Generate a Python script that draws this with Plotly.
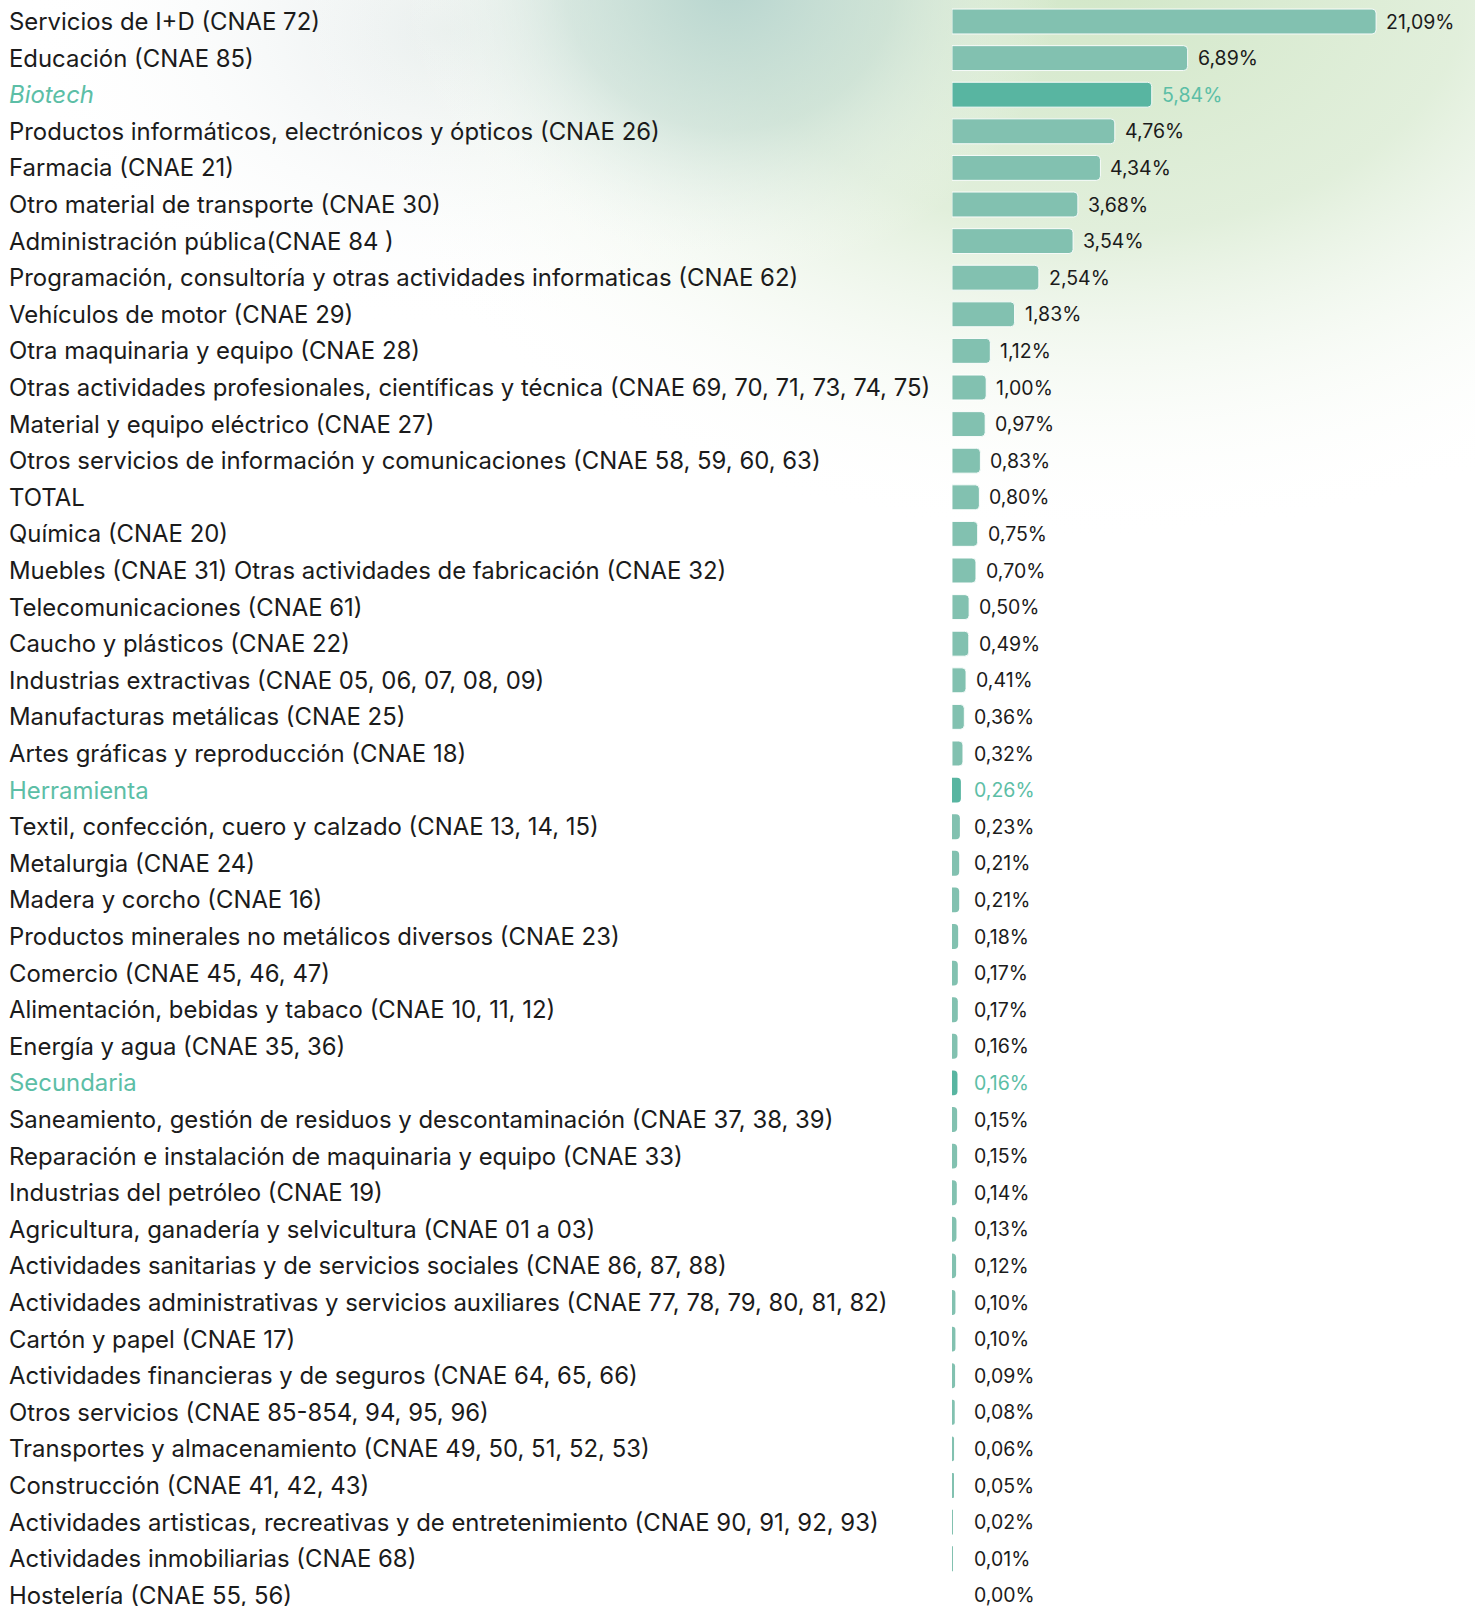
import base64
import plotly.graph_objects as go

categories = [
    "Servicios de I+D (CNAE 72)",
    "Educación (CNAE 85)",
    "Biotech",
    "Productos informáticos, electrónicos y ópticos (CNAE 26)",
    "Farmacia (CNAE 21)",
    "Otro material de transporte (CNAE 30)",
    "Administración pública(CNAE 84 )",
    "Programación, consultoría y otras actividades informaticas (CNAE 62)",
    "Vehículos de motor (CNAE 29)",
    "Otra maquinaria y equipo (CNAE 28)",
    "Otras actividades profesionales, científicas y técnica (CNAE 69, 70, 71, 73, 74, 75)",
    "Material y equipo eléctrico (CNAE 27)",
    "Otros servicios de información y comunicaciones (CNAE 58, 59, 60, 63)",
    "TOTAL",
    "Química (CNAE 20)",
    "Muebles (CNAE 31) Otras actividades de fabricación (CNAE 32)",
    "Telecomunicaciones (CNAE 61)",
    "Caucho y plásticos (CNAE 22)",
    "Industrias extractivas (CNAE 05, 06, 07, 08, 09)",
    "Manufacturas metálicas (CNAE 25)",
    "Artes gráficas y reproducción (CNAE 18)",
    "Herramienta",
    "Textil, confección, cuero y calzado (CNAE 13, 14, 15)",
    "Metalurgia (CNAE 24)",
    "Madera y corcho (CNAE 16)",
    "Productos minerales no metálicos diversos (CNAE 23)",
    "Comercio (CNAE 45, 46, 47)",
    "Alimentación, bebidas y tabaco (CNAE 10, 11, 12)",
    "Energía y agua (CNAE 35, 36)",
    "Secundaria",
    "Saneamiento, gestión de residuos y descontaminación (CNAE 37, 38, 39)",
    "Reparación e instalación de maquinaria y equipo (CNAE 33)",
    "Industrias del petróleo (CNAE 19)",
    "Agricultura, ganadería y selvicultura (CNAE 01 a 03)",
    "Actividades sanitarias y de servicios sociales (CNAE 86, 87, 88)",
    "Actividades administrativas y servicios auxiliares (CNAE 77, 78, 79, 80, 81, 82)",
    "Cartón y papel (CNAE 17)",
    "Actividades financieras y de seguros (CNAE 64, 65, 66)",
    "Otros servicios (CNAE 85-854, 94, 95, 96)",
    "Transportes y almacenamiento (CNAE 49, 50, 51, 52, 53)",
    "Construcción (CNAE 41, 42, 43)",
    "Actividades artisticas, recreativas y de entretenimiento (CNAE 90, 91, 92, 93)",
    "Actividades inmobiliarias (CNAE 68)",
    "Hostelería (CNAE 55, 56)",
]

values = [21.09, 6.89, 5.84, 4.76, 4.34, 3.68, 3.54, 2.54, 1.83, 1.12, 1.00, 0.97,
          0.83, 0.80, 0.75, 0.70, 0.50, 0.49, 0.41, 0.36, 0.32, 0.26, 0.23, 0.21,
          0.21, 0.18, 0.17, 0.17, 0.16, 0.16, 0.15, 0.15, 0.14, 0.13, 0.12, 0.10,
          0.10, 0.09, 0.08, 0.06, 0.05, 0.02, 0.01, 0.00]

highlighted = ["Biotech", "Herramienta", "Secundaria"]
italic_labels = ["Biotech"]

AXIS_BREAK = 12.4       # the longest bar is drawn shortened (broken axis)
LABEL_MIN = 0.35        # minimum position of the value labels

W, H = 1475, 1606
BAR_COLOR = "#82c1b0"
HI_COLOR = "#58b5a1"
HI_TEXT = "#5cbea6"
TEXT = "#1b1b1b"
FONT = "Inter, 'Open Sans', sans-serif"

display = [min(v, AXIS_BREAK) for v in values]
colors = [HI_COLOR if c in highlighted else BAR_COLOR for c in categories]
outline = [1 if v >= 0.3 else 0 for v in values]

svg = f"""<svg xmlns='http://www.w3.org/2000/svg' width='{W}' height='{H}' viewBox='0 0 {W} {H}' preserveAspectRatio='none'>
<defs>
<radialGradient id='g1'>
<stop offset='0' stop-color='#d2e7c8' stop-opacity='1'/>
<stop offset='0.45' stop-color='#dcecd5' stop-opacity='0.85'/>
<stop offset='1' stop-color='#ffffff' stop-opacity='0'/>
</radialGradient>
<radialGradient id='g2'>
<stop offset='0' stop-color='#b7d5cf' stop-opacity='1'/>
<stop offset='0.5' stop-color='#c6ddd6' stop-opacity='0.6'/>
<stop offset='1' stop-color='#ffffff' stop-opacity='0'/>
</radialGradient>
<radialGradient id='g3'>
<stop offset='0' stop-color='#e6ecec' stop-opacity='1'/>
<stop offset='1' stop-color='#ffffff' stop-opacity='0'/>
</radialGradient>
</defs>
<rect width='{W}' height='{H}' fill='#ffffff'/>
<ellipse cx='450' cy='30' rx='430' ry='300' fill='url(#g3)'/>
<ellipse cx='1100' cy='-20' rx='820' ry='560' fill='url(#g1)'/>
<ellipse cx='730' cy='-20' rx='330' ry='300' fill='url(#g2)'/>
</svg>"""
bg_src = "data:image/svg+xml;base64," + base64.b64encode(svg.encode("utf-8")).decode("ascii")

fig = go.Figure()
fig.add_trace(go.Bar(
    y=categories,
    x=display,
    orientation="h",
    marker=dict(color=colors, line=dict(color="rgba(255,255,255,0.9)", width=outline)),
    width=0.68,
    hoverinfo="skip",
))

annotations = []
for cat, v, d in zip(categories, values, display):
    hi = cat in highlighted
    label = f"<i>{cat}</i>" if cat in italic_labels else cat
    annotations.append(dict(
        x=7 / W, xref="paper", y=cat, yref="y",
        text=label, showarrow=False, xanchor="left", yanchor="middle",
        font=dict(family=FONT, size=23.9, color=HI_TEXT if hi else TEXT),
    ))
    annotations.append(dict(
        x=max(d, LABEL_MIN), xref="x", y=cat, yref="y",
        text=f"{v:.2f}%".replace(".", ","), showarrow=False,
        xanchor="left", yanchor="middle", xshift=8,
        font=dict(family=FONT, size=19.5, color=HI_TEXT if hi else TEXT),
    ))

x0 = 952 / W
px_per_unit = 34.2
x_max = (W - 952) / px_per_unit
row = 36.6
top = -21.5 / row
bottom = top + H / row

fig.update_layout(
    width=W, height=H,
    margin=dict(l=0, r=0, t=0, b=0),
    paper_bgcolor="white",
    plot_bgcolor="rgba(0,0,0,0)",
    showlegend=False,
    barcornerradius=4,
    xaxis=dict(domain=[x0, 1], range=[0, x_max], visible=False, fixedrange=True),
    yaxis=dict(range=[bottom, top], visible=False, fixedrange=True,
               categoryorder="array", categoryarray=categories),
    annotations=annotations,
    images=[dict(source=bg_src, xref="paper", yref="paper", x=0, y=1,
                 sizex=1, sizey=1, sizing="stretch", layer="below",
                 xanchor="left", yanchor="top")],
)

fig.write_html("out.html", post_script="document.body.style.margin='0';",
               config={"displayModeBar": False})
